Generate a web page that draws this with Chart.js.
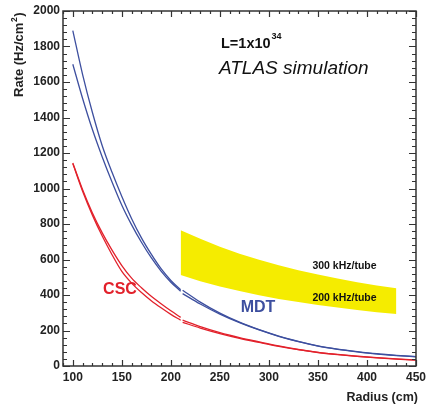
<!DOCTYPE html>
<html><head><meta charset="utf-8">
<script src="https://cdn.jsdelivr.net/npm/chart.js@4.4.1/dist/chart.umd.min.js"></script>
<style>html,body{margin:0;padding:0;background:#fff}#wrap{width:430px;height:406px;position:relative}</style>
</head><body><div id="wrap"><canvas id="c" width="430" height="406"></canvas></div>
<script>
// ---- data ----
const xBefore = [100,110,120,130,140,150,160,170,180,190,200,210];
const mdtHighBefore = [1890,1642,1428,1241,1091,955,830,722,630,548,482,430];
const mdtLowBefore  = [1700,1507,1332,1178,1037,906,795,697,610,535,472,421];
const cscHighBefore = [1144,993,862,750,653,566,495,441,393,351,311,274];
const cscLowBefore  = [1140,985,850,732,627,533,467,414,368,328,291,258];
const xAfter = [212,230,250,270,290,310,330,350,370,390,410,430,450];
const mdtHighAfter = [427,360,298,247,205,169,139,113,95,81,69,60,53];
const mdtLowAfter  = [408,349,292,244,203,167,137,112,94,80,68,59,52];
const cscHighAfter = [258,222,188,160,136,113,93,77,65,55,47,40,34];
const cscLowAfter  = [246,214,183,156,133,111,92,76,64,54,46,39,33];
const bandX   = [210,230,250,270,290,310,330,350,370,390,410,430];
const band300 = [765,717,672,633,598,567,540,516,493,472,454,438];
const band200 = [512,478,448,422,399,378,360,344,329,315,303,293];
const xTickLabels = [100,150,200,250,300,350,400,450];
const yTickLabels = [0,200,400,600,800,1000,1200,1400,1600,1800,2000];

const BLUE = '#3d4f9f', RED = '#e2212b', YELLOW = 'rgb(245,236,0)';
const FONT = '"Liberation Sans", Arial, Helvetica, sans-serif';

const pts = (xs, ys) => xs.map((x, i) => ({x, y: ys[i]}));
const curve = (label, xs, ys, color) => ({
  label, data: pts(xs, ys), borderColor: color, borderWidth: 1.3,
  pointRadius: 0, cubicInterpolationMode: 'monotone', fill: false
});

const frame = {
  id: 'frame',
  afterDraw(chart) {
    const {ctx, chartArea: a, scales: {x, y}} = chart;
    ctx.save();
    ctx.strokeStyle = '#333';
    ctx.lineWidth = 1.5;
    ctx.strokeRect(a.left, a.top, a.right - a.left, a.bottom - a.top);
    ctx.lineWidth = 1.2;
    ctx.beginPath();
    for (let v = 90; v <= 450; v += 10) {
      const p = Math.round(x.getPixelForValue(v)) + 0.5;
      const len = (v % 50 === 0) ? 6 : 3;
      ctx.moveTo(p, a.bottom); ctx.lineTo(p, a.bottom - len);
      ctx.moveTo(p, a.top); ctx.lineTo(p, a.top + len);
    }
    for (let v = 0; v <= 2000; v += 40) {
      const p = Math.round(y.getPixelForValue(v)) + 0.5;
      const len = (v % 200 === 0) ? 7 : 4;
      ctx.moveTo(a.left, p); ctx.lineTo(a.left + len, p);
      ctx.moveTo(a.right, p); ctx.lineTo(a.right - len, p);
    }
    ctx.stroke();

    // annotations
    ctx.textBaseline = 'middle';
    ctx.textAlign = 'center';
    ctx.fillStyle = RED;
    ctx.font = 'bold 16px ' + FONT;
    ctx.fillText('CSC', 120, 290);
    ctx.fillStyle = BLUE;
    ctx.fillText('MDT', 258, 308);
    ctx.fillStyle = '#111';
    ctx.font = 'bold 10.5px ' + FONT;
    ctx.fillText('300 kHz/tube', 344.5, 266);
    ctx.fillText('200 kHz/tube', 344.5, 298);

    ctx.textBaseline = 'alphabetic';
    ctx.textAlign = 'left';
    ctx.fillStyle = '#111';
    ctx.font = 'bold 14.5px ' + FONT;
    const s1 = 'L=1x10';
    ctx.fillText(s1, 221, 48);
    const w1 = ctx.measureText(s1).width;
    ctx.font = 'bold 9px ' + FONT;
    ctx.fillText('34', 221 + w1 + 1, 38.5);
    ctx.font = 'italic 19px ' + FONT;
    ctx.fillText('ATLAS simulation', 219, 74);

    ctx.textAlign = 'right';
    ctx.font = 'bold 12.5px ' + FONT;
    ctx.fillStyle = '#222';
    ctx.fillText('Radius (cm)', 418, 401);

    // y title rotated
    ctx.save();
    ctx.translate(22.5, 97);
    ctx.rotate(-Math.PI / 2);
    ctx.textAlign = 'left';
    ctx.font = 'bold 13px ' + FONT;
    const t1 = 'Rate (Hz/cm';
    ctx.fillText(t1, 0, 0);
    let w = ctx.measureText(t1).width;
    ctx.font = 'bold 8.5px ' + FONT;
    ctx.fillText('2', w + 0.5, -6);
    w += ctx.measureText('2').width + 1;
    ctx.font = 'bold 13px ' + FONT;
    ctx.fillText(')', w, 0);
    ctx.restore();
    ctx.restore();
  }
};

new Chart(document.getElementById('c'), {
  type: 'line',
  data: {
    datasets: [
      curve('MDT high', xBefore, mdtHighBefore, BLUE),
      curve('MDT low', xBefore, mdtLowBefore, BLUE),
      curve('CSC high', xBefore, cscHighBefore, RED),
      curve('CSC low', xBefore, cscLowBefore, RED),
      curve('MDT high 2', xAfter, mdtHighAfter, BLUE),
      curve('MDT low 2', xAfter, mdtLowAfter, BLUE),
      curve('CSC high 2', xAfter, cscHighAfter, RED),
      curve('CSC low 2', xAfter, cscLowAfter, RED),
      {label: '300 kHz/tube', data: pts(bandX, band300), borderWidth: 0, borderColor: 'rgba(0,0,0,0)',
       pointRadius: 0, backgroundColor: YELLOW, fill: '+1', tension: 0},
      {label: '200 kHz/tube', data: pts(bandX, band200), borderWidth: 0, borderColor: 'rgba(0,0,0,0)',
       pointRadius: 0, fill: false, tension: 0}
    ]
  },
  options: {
    responsive: false,
    animation: false,
    devicePixelRatio: 1,
    layout: {padding: {left: 0, right: 12, top: 11, bottom: 0}},
    plugins: {legend: {display: false}, tooltip: {enabled: false}},
    scales: {
      x: {
        type: 'linear', min: 90, max: 450,
        grid: {display: false, drawTicks: false},
        border: {display: false},
        ticks: {
          stepSize: 50, includeBounds: false, autoSkip: false, maxRotation: 0, padding: 4,
          color: '#222', font: {family: FONT, weight: 'bold', size: 12},
          callback: v => xTickLabels.includes(v) ? String(v) : ''
        },
        afterFit: s => { s.height = 40; }
      },
      y: {
        type: 'linear', min: 0, max: 2000,
        grid: {display: false, drawTicks: false},
        border: {display: false},
        ticks: {
          stepSize: 200, autoSkip: false, padding: 3,
          color: '#222', font: {family: FONT, weight: 'bold', size: 12},
          callback: v => yTickLabels.includes(v) ? String(v) : ''
        },
        afterFit: s => { s.width = 63; }
      }
    }
  },
  plugins: [frame]
});
</script>
</body></html>
